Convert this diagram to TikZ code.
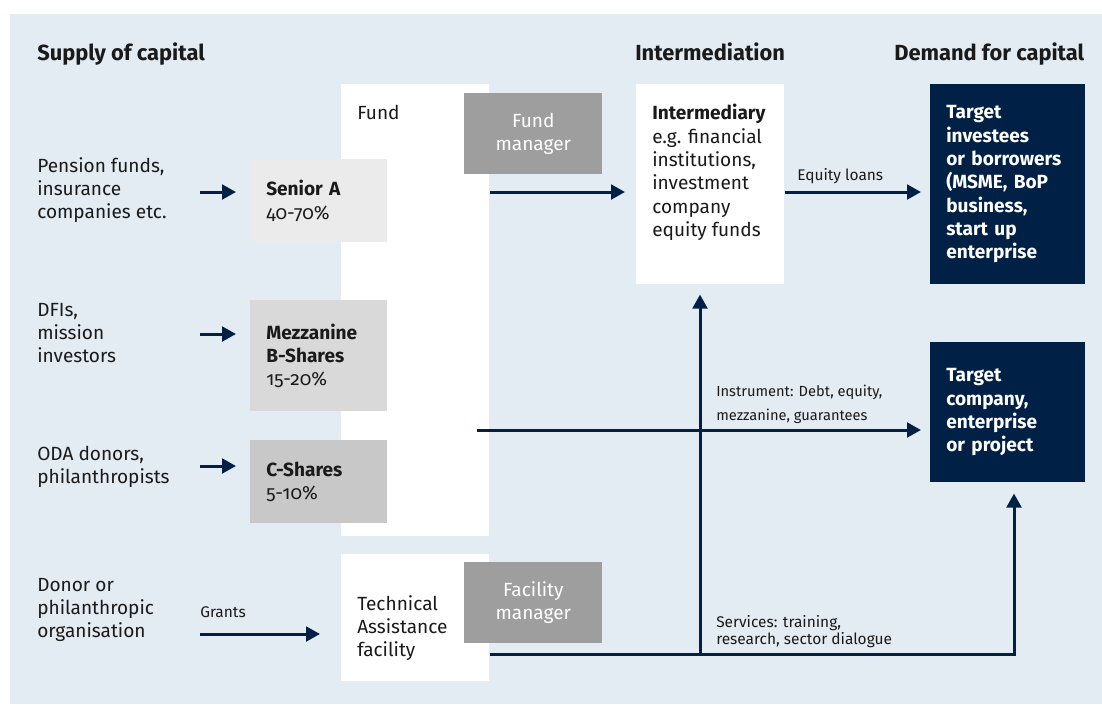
\documentclass[tikz,border=0pt]{standalone}
\usepackage{fontspec}
\setmainfont{Fira Sans}
\newfontfamily\oldfigs{Fira Sans}[RawFeature=+onum]
\usetikzlibrary{arrows.meta}

\definecolor{navy}{HTML}{002046}
\definecolor{bgblue}{HTML}{E3ECF2}
\definecolor{mgrgray}{HTML}{9E9E9E}
\definecolor{seniorgray}{HTML}{EBEBEB}
\definecolor{mezzgray}{HTML}{D9D9D9}
\definecolor{cgray}{HTML}{C8C8C8}
\definecolor{textblack}{HTML}{1A1A1A}

\begin{document}
\begin{tikzpicture}[x=0.75pt,y=0.75pt,yscale=-1,xscale=1,
  every node/.style={text=textblack, inner sep=0},
  body/.style={font=\fontsize{14.3}{17.5}\selectfont, align=left},
  note/.style={font=\fontsize{11.6}{12.75}\selectfont, align=left},
  head/.style={font=\bfseries\fontsize{16.4}{19}\selectfont, anchor=base west},
  panel/.style={fill=white, anchor=north west, minimum width=111pt},
  share/.style={body, anchor=north west, minimum width=102.75pt, text width=78.75pt, inner xsep=12pt},
  mgr/.style={body, fill=mgrgray, text=white, align=center, anchor=north west, minimum width=103.5pt, minimum height=60.75pt},
  target/.style={fill=navy, text=white, anchor=north west, align=left, minimum width=116.25pt, text width=92.25pt, inner xsep=12pt, font=\bfseries\fontsize{14.3}{17.5}\selectfont},
  arr/.style={draw=navy, line width=2.25pt, -{Triangle[length=10.5pt,width=11pt]}}
]
        \fill[white] (0,0) rectangle (1102,704);
        \fill[bgblue] (10,14) rectangle (1102,704);
        \node[head] (supply) at (37,60) {Supply of capital};
        \node[head] (intermed) at (635,60) {Intermediation};
        \node[head] (demand) at (894,60) {Demand for capital};
        \node[panel, minimum height=339pt] (fund) at (341,84) {};
        \node[panel, minimum height=95.25pt] (tafac) at (341,554) {};
        \node[panel, minimum height=150pt] (inter) at (636,84) {};
        \node[body, anchor=west] (fundlbl) at (357,112) {Fund};
        \node[body, anchor=west] (talbl) at (357,628) {Technical\\Assistance\\facility};
        \node[body, anchor=north west] (interlbl) at (652,104) {\textbf{Intermediary}\\e.g. financial\\institutions,\\investment\\company\\equity funds};
        \node[share, fill=seniorgray, minimum height=62.25pt] (senior) at (250,159) {\textbf{Senior A}\\{\oldfigs 40-70\%}};
        \node[share, fill=mezzgray, minimum height=83.25pt] (mezz) at (250,300) {\textbf{Mezzanine}\\\textbf{B-Shares}\\{\oldfigs 15-20\%}};
        \node[share, fill=cgray, minimum height=62.25pt] (cshares) at (250,440) {\textbf{C-Shares}\\{\oldfigs 5-10\%}};
        \node[mgr] (fundmgr) at (464,93) {Fund\\manager};
        \node[mgr] (facmgr) at (464,562) {Facility\\manager};
        \node[target, minimum height=150pt] (investees) at (930,84) {Target\\investees\\or borrowers\\(MSME, BoP\\business,\\start up\\enterprise};
        \node[target, minimum height=105pt] (company) at (930,342) {Target\\company,\\enterprise\\or project\\[4pt]};
        \node[body, anchor=west] (pension) at (37,190) {Pension funds,\\insurance\\companies etc.};
        \node[body, anchor=west] (dfi) at (37,333) {DFIs,\\mission\\investors};
        \node[body, anchor=west] (oda) at (37,467) {ODA donors,\\philanthropists};
        \node[body, anchor=west] (donor) at (37,610) {Donor or\\philanthropic\\organisation};
        \coordinate (pensionin) at (200,192);
        \coordinate (dfiin) at (200,334);
        \coordinate (odain) at (200,466);
        \coordinate (grantin) at (200,634);
        \coordinate (instr) at (477,430);
        \coordinate (split) at (700,654);
        \coordinate (turn) at (1014,654);
        \draw[arr, shorten >=10.5pt] (pensionin) -- (senior.west |- pensionin);
        \draw[arr, shorten >=10.5pt] (dfiin) -- (mezz.west |- dfiin);
        \draw[arr, shorten >=10.5pt] (odain) -- (cshares.west |- odain);
        \node[note, anchor=west] (grants) at (200,612) {Grants};
        \draw[arr, shorten >=15.75pt] (grantin) -- (tafac.west |- grantin);
        \draw[arr, shorten >=8.25pt] (fund.east |- pensionin) -- (inter.west |- pensionin);
        \draw[arr, shorten >=6.75pt] (inter.east |- pensionin) -- node[note, above=5pt, xshift=-12.75pt] (equity) {Equity loans} (investees.west |- pensionin);
        \draw[arr, shorten >=6.75pt] (instr) -- (company.west |- instr);
        \node[note, anchor=west, font=\fontsize{11}{18}\selectfont] (instrlbl) at (716,404) {Instrument: Debt, equity,\\mezzanine, guarantees};
        \draw[arr, shorten >=7.5pt] (split) -- (split |- inter.south);
        \draw[arr, shorten >=8.25pt] (tafac.east |- turn) -- (turn) -- (turn |- company.south);
        \node[note, anchor=west] (servlbl) at (716,632) {Services: training,\\research, sector dialogue};
    \end{tikzpicture}
\end{document}
